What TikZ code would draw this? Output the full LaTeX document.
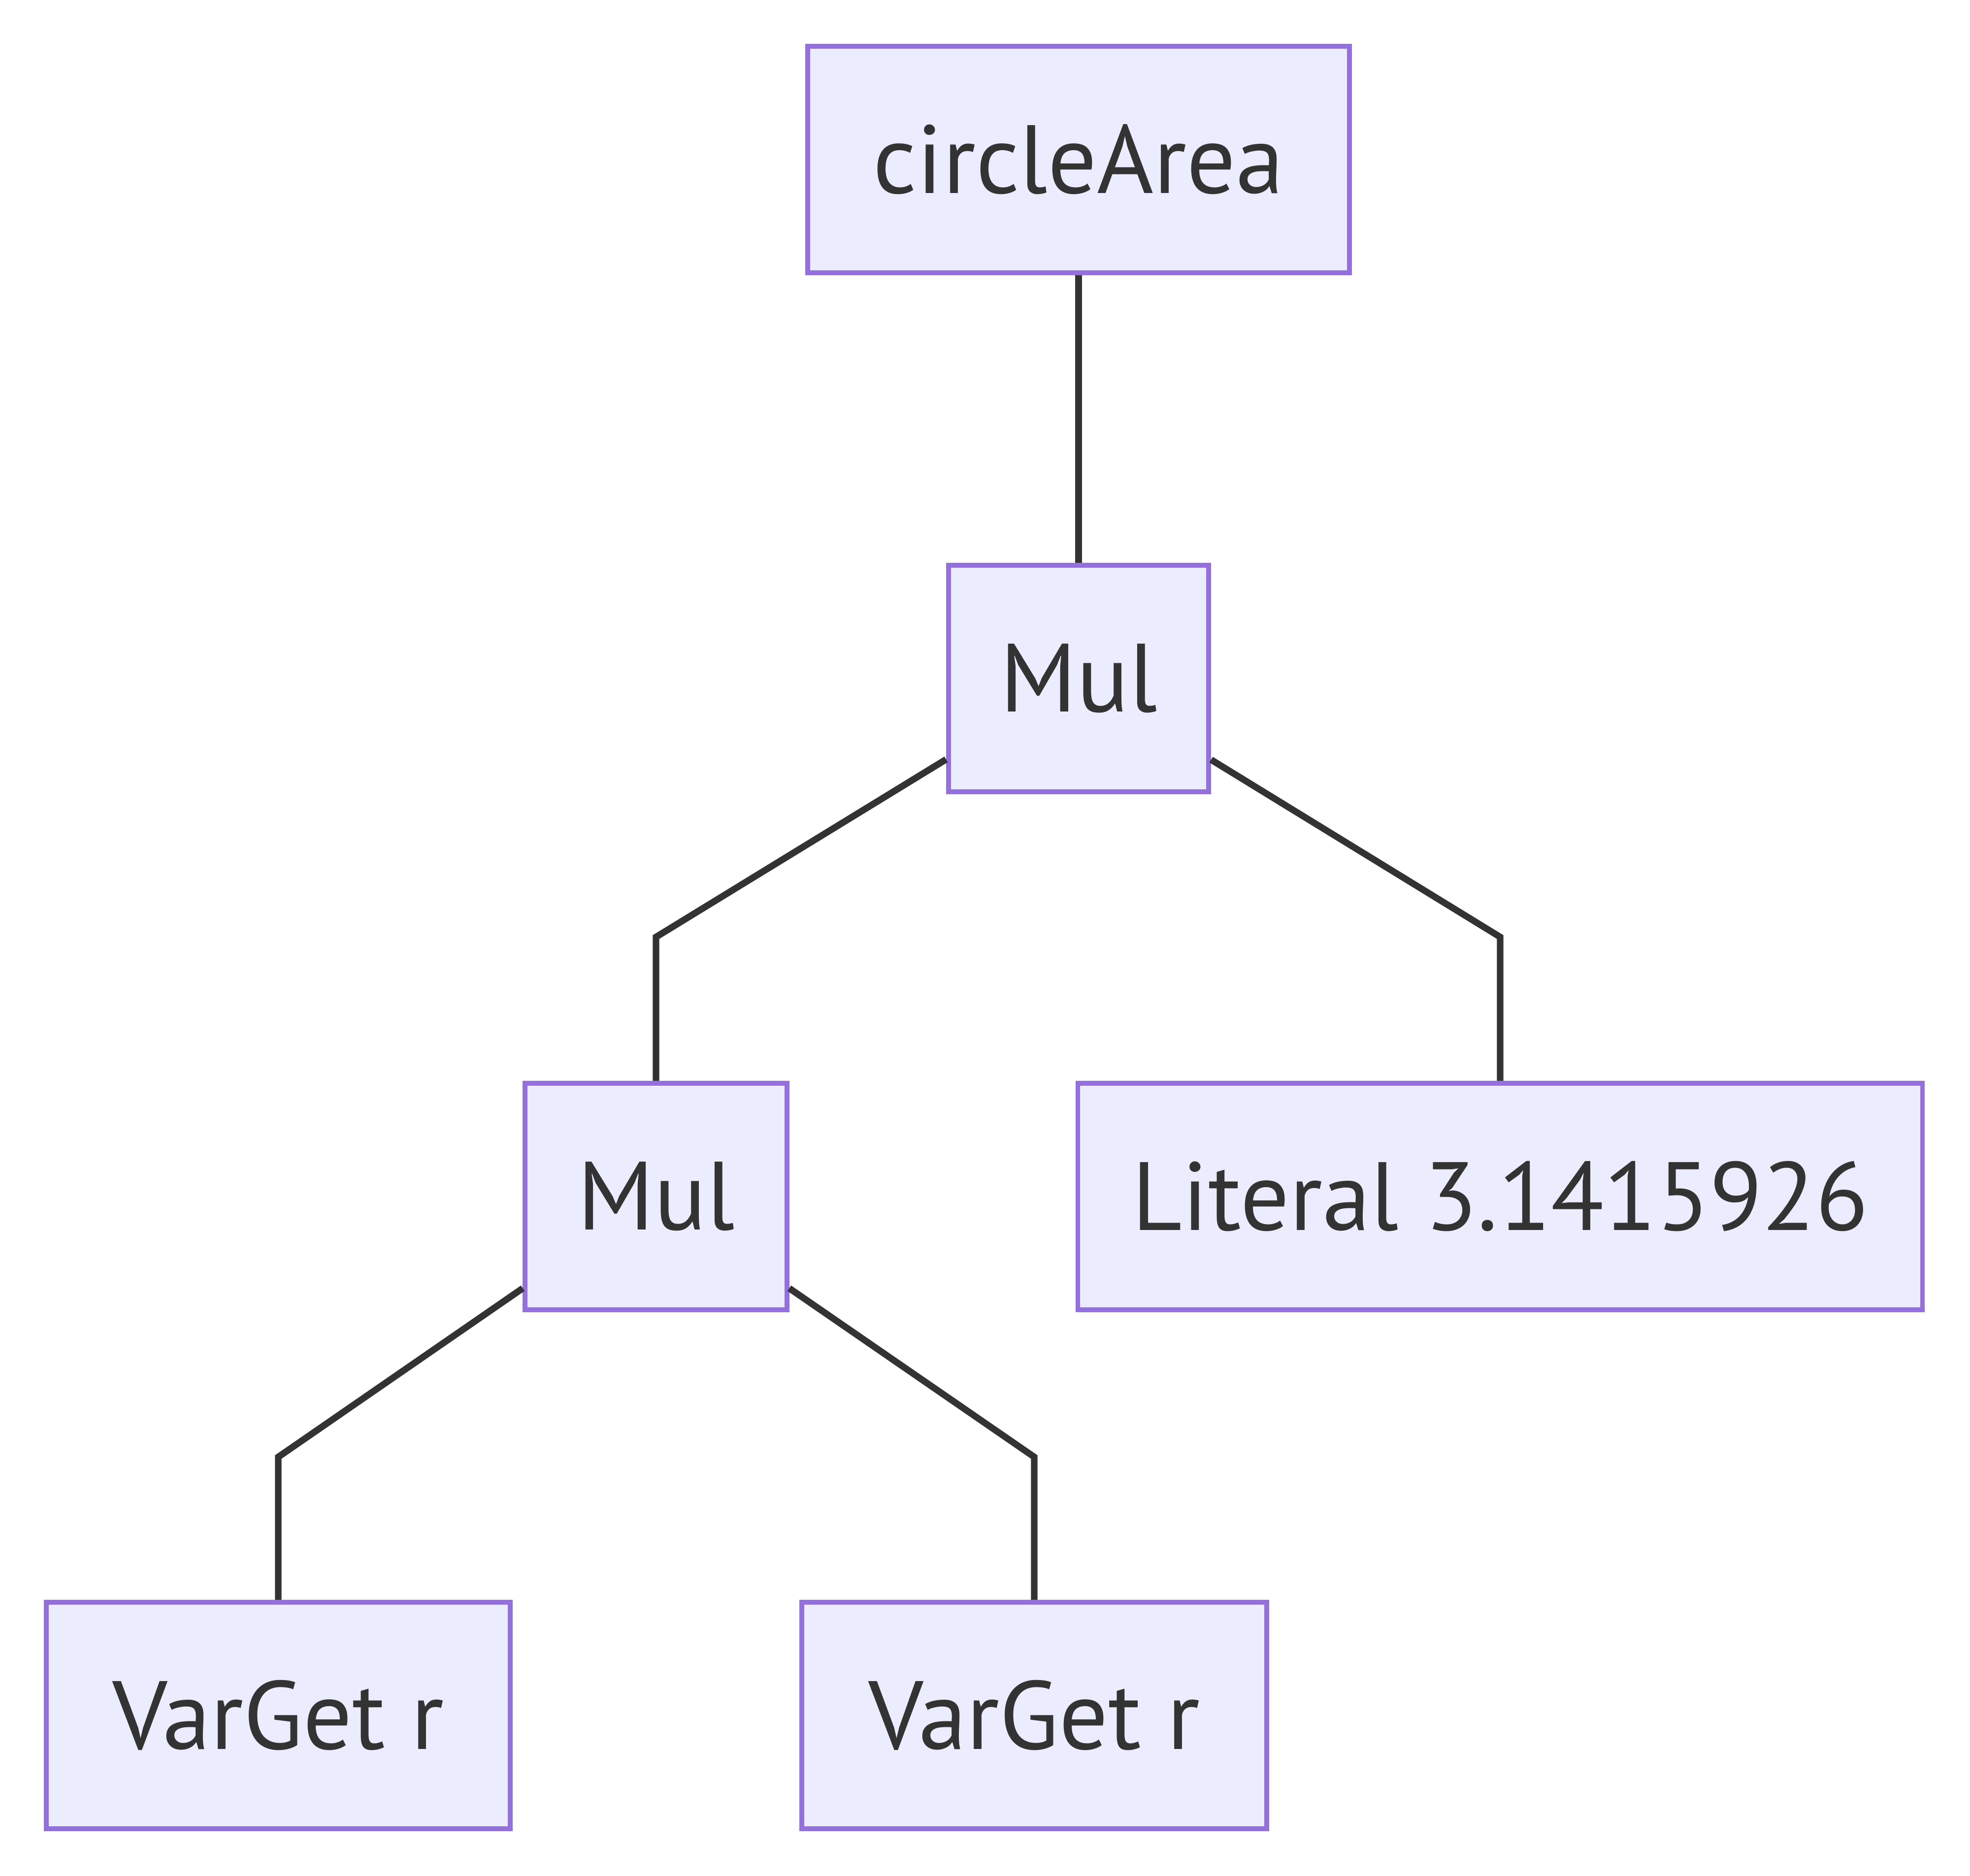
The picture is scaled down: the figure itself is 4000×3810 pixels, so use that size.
\documentclass[tikz,border=0pt]{standalone}
\usepackage{fontspec}
\setmainfont{PT Sans}
\definecolor{nodefill}{HTML}{ECECFF}
\definecolor{nodeline}{HTML}{9370DB}
\definecolor{edgeline}{HTML}{333333}
\begin{document}
\begin{tikzpicture}[x=0.01cm,y=-0.01cm,
  box/.style={draw=nodeline,fill=nodefill,line width=2.8pt,text=edgeline,
    minimum height=4.6cm,inner sep=0pt,font=\fontsize{56}{64}\selectfont},
  edge/.style={draw=edgeline,line width=3.8pt}]
\useasboundingbox (0,0) rectangle (4000,3810);
\node[box,minimum width=11.0cm] (ca) at (2190,324) {circleArea};
\node[box,minimum width=5.28cm] (m1) at (2190,1378) {Mul};
\node[box,minimum width=5.31cm] (m2) at (1332,2430) {Mul};
\node[box,minimum width=17.14cm] (lit) at (3046,2430) {Literal 3.1415926};
\node[box,minimum width=9.42cm] (v1) at (565,3484) {VarGet r};
\node[box,minimum width=9.43cm] (v2) at (2100,3484) {VarGet r};
\coordinate (b1) at (1332,1903);
\coordinate (b2) at (3046,1903);
\coordinate (b3) at (565,2959);
\coordinate (b4) at (2100,2959);
\draw[edge] (ca) -- (m1);
\draw[edge] (m1) -- (b1) -- (m2);
\draw[edge] (m1) -- (b2) -- (lit);
\draw[edge] (m2) -- (b3) -- (v1);
\draw[edge] (m2) -- (b4) -- (v2);
\end{tikzpicture}
\end{document}
